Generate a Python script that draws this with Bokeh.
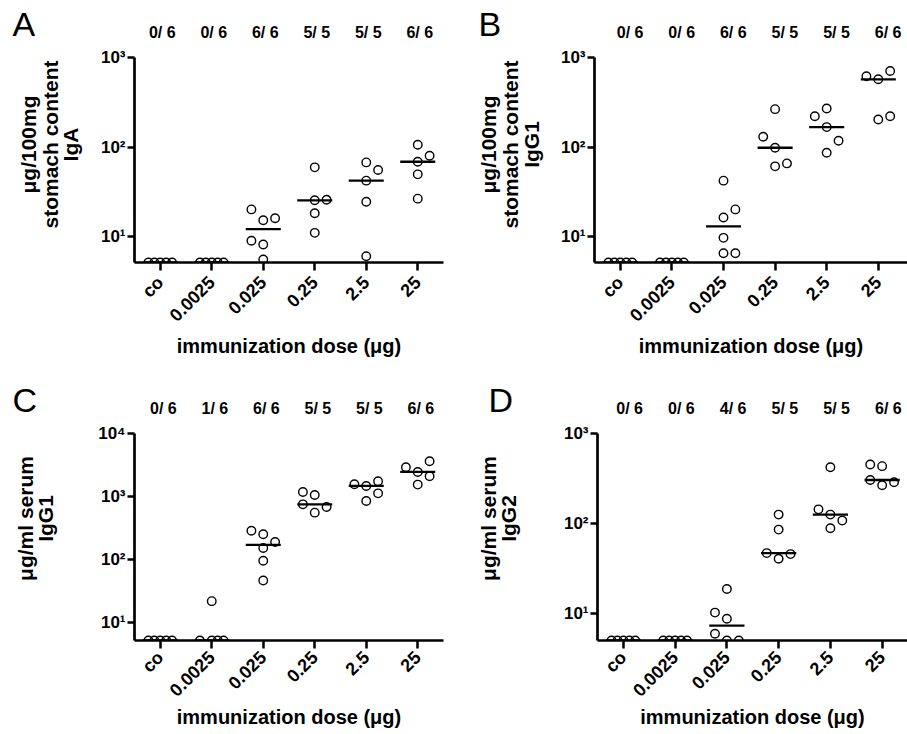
import numpy as np
from math import pi
from bokeh.plotting import figure
from bokeh.layouts import column, row
from bokeh.models import Range1d, FixedTicker, LinearAxis, Title
from bokeh.embed import file_html
from bokeh.resources import INLINE

# ---------------- data ----------------
doses = ["co", "0.0025", "0.025", "0.25", "2.5", "25"]
ND = None  # below detection limit (plotted on the x axis)

# A: IgA, stomach content (µg/100 mg)
A_counts = ["0/ 6", "0/ 6", "6/ 6", "5/ 5", "5/ 5", "6/ 6"]
A_values = [
    [ND, ND, ND, ND, ND],
    [ND, ND, ND, ND, ND],
    [20.1, 15.2, 16.0, 8.96, 8.15, 5.55],
    [59.3, 25.4, 25.8, 18.2, 11.0],
    [67.3, 55.3, 42.1, 24.5, 6.03],
    [106, 80, 68.5, 49.5, 26.5],
]
A_slots = [
    [-1, -0.5, 0, 0.5, 1],
    [-1, -0.5, 0, 0.5, 1],
    [-1, 0, 1, -1, 0, 0],
    [0, 0, 1, 0, 0],
    [0, 1, 0, 0, 0],
    [0, 1, 0, 0, 0],
]

# B: IgG1, stomach content (µg/100 mg)
B_counts = ["0/ 6", "0/ 6", "6/ 6", "5/ 5", "5/ 5", "6/ 6"]
B_values = [
    [ND, ND, ND, ND, ND],
    [ND, ND, ND, ND, ND],
    [42.1, 20.1, 16.3, 9.67, 6.52, 6.52],
    [265, 130, 98.2, 65.6, 60.8],
    [269, 221, 167, 117.5, 86.3],
    [708, 617, 571, 203, 221],
]
B_slots = [
    [-1, -0.5, 0, 0.5, 1],
    [-1, -0.5, 0, 0.5, 1],
    [0, 1, 0, 0, 0, 1],
    [0, -1, 0, 1, 0],
    [0, -1, 0, 1, 0],
    [1, -1, 0, 0, 1],
]

# C: IgG1, serum (µg/ml)
C_counts = ["0/ 6", "1/ 6", "6/ 6", "5/ 5", "5/ 5", "6/ 6"]
C_values = [
    [ND, ND, ND, ND, ND],
    [21.6, ND, ND, ND, ND],
    [285, 250, 188, 151, 95, 46.1],
    [1175, 1052, 748, 678, 552],
    [1560, 1466, 1738, 1119, 845],
    [3622, 2905, 2448, 2090, 1541],
]
C_slots = [
    [-1, -0.5, 0, 0.5, 1],
    [0, -1, 0, 0.5, 1],
    [-1, 0, 1, 0, 0, 0],
    [-1, 0, -1, 1, 0],
    [-1, 0, 1, 1, 0],
    [1, -1, 0, 1, 0],
]

# D: IgG2, serum (µg/ml)
D_counts = ["0/ 6", "0/ 6", "4/ 6", "5/ 5", "5/ 5", "6/ 6"]
D_values = [
    [ND, ND, ND, ND, ND],
    [ND, ND, ND, ND, ND],
    [18.8, 10.3, 8.8, 6.0, ND, ND],
    [126, 85.8, 47.1, 45.9, 40.8],
    [423, 144, 126, 108, 88.7],
    [453, 434, 305, 288, 267],
]
D_slots = [
    [-1, -0.5, 0, 0.5, 1],
    [-1, -0.5, 0, 0.5, 1],
    [0, -1, 0, -1, 0, 1],
    [0, 0, -1, 1, 0],
    [0, -1, 0, 1, 0],
    [-1, 0, -1, 1, 0],
]

# ---------------- style ----------------
FONT = "Liberation Sans"
JIT = 0.23      # horizontal jitter slot width (category units)
HALF = 0.34     # half width of median bar
SUP = {10: "10\u00b9", 100: "10\u00b2", 1000: "10\u00b3", 10000: "10\u2074"}
YT_SIZE = 21    # y title font size (px)

# approximate advance widths (em) of bold Liberation Sans, used to centre
# the rotated y-title lines at a chosen height
_W = {" ": .278, "/": .278, "0": .556, "1": .556, "2": .556, "A": .722,
      "G": .778, "I": .278, "a": .556, "c": .556, "e": .556, "g": .611,
      "h": .611, "l": .278, "m": .889, "n": .611, "o": .611, "r": .389,
      "s": .556, "t": .333, "u": .611, "\u03bc": .611}


def text_len(s, size):
    return sum(_W.get(ch, .6) for ch in s) * size


def make_panel(letter, ylines, counts, values, slots, lod, top, yticks,
               width, height, left, top_b, fw, fh, x_end,
               ycentre, yspacer, ystandoffs, let_dx,
               tick_standoff, xlab_standoff, count_shift):
    p = figure(width=width, height=height, frame_width=fw, frame_height=fh,
               y_axis_type="log",
               x_range=Range1d(-0.5, x_end), y_range=Range1d(lod, top),
               output_backend="svg", toolbar_location=None,
               min_border_left=left, min_border_top=top_b,
               min_border_right=width - left - fw,
               min_border_bottom=height - top_b - fh)
    p.outline_line_color = None
    p.grid.visible = False
    p.background_fill_color = "white"
    p.extra_x_ranges = {"counts": Range1d(-0.5 - count_shift, x_end - count_shift)}

    xs, ys = [], []
    mx, my = [], []
    for i, (vals, sl) in enumerate(zip(values, slots)):
        yv = [lod if v is None else v for v in vals]
        xs += [i + s * JIT for s in sl]
        ys += yv
        mx.append(i)
        my.append(float(np.median(yv)))
    p.scatter(xs, ys, marker="circle", size=8.5, fill_color=None,
              line_color="black", line_width=1.4)
    p.segment(x0=[m - HALF for m in mx], x1=[m + HALF for m in mx],
              y0=my, y1=my, line_color="black", line_width=2.3)

    # axes
    for ax in (p.xaxis[0], p.yaxis[0]):
        ax.axis_line_width = 2.7
        ax.axis_line_color = "black"
        ax.major_tick_line_width = 2.5
        ax.major_tick_in = 0
        ax.minor_tick_line_color = None
        ax.major_label_text_font = FONT
        ax.major_label_text_font_style = "bold"
        ax.major_label_text_color = "black"

    xa = p.xaxis[0]
    xa.ticker = FixedTicker(ticks=list(range(len(doses))))
    xa.major_label_overrides = {i: d for i, d in enumerate(doses)}
    xa.major_label_orientation = pi / 4
    xa.major_label_text_font_size = "18px"
    xa.major_tick_out = 8
    xa.major_label_standoff = tick_standoff
    xa.axis_label = "immunization dose (\u03bcg)"
    xa.axis_label_text_font = FONT
    xa.axis_label_text_font_style = "bold"
    xa.axis_label_text_font_size = "20px"
    xa.axis_label_text_color = "black"
    xa.axis_label_standoff = xlab_standoff

    ya = p.yaxis[0]
    ya.ticker = FixedTicker(ticks=yticks)
    ya.major_label_overrides = {t: SUP[t] for t in yticks}
    ya.major_label_text_font_size = "17px"
    ya.major_tick_out = 7
    ya.major_label_standoff = 2
    # invisible spacer between tick labels and the y title
    ya.axis_label = " "
    ya.axis_label_text_font_size = "1px"
    ya.axis_label_standoff = yspacer

    # count labels above each group
    ca = LinearAxis(x_range_name="counts",
                    ticker=FixedTicker(ticks=list(range(len(doses)))),
                    major_label_overrides={i: c for i, c in enumerate(counts)},
                    axis_line_color=None, major_tick_line_color=None,
                    minor_tick_line_color=None, major_tick_out=0,
                    major_label_standoff=17,
                    major_label_text_font=FONT,
                    major_label_text_font_style="bold",
                    major_label_text_font_size="16px",
                    major_label_text_color="black")
    p.add_layout(ca, "above")

    # panel letter, level with the count labels
    p.add_layout(Title(text=letter, align="left", offset=let_dx, standoff=-44,
                       vertical_align="bottom", text_font=FONT,
                       text_font_style="normal", text_font_size="34px",
                       text_color="black"), "above")

    # y title: one Title per line, from the axis outwards
    for line, so in zip(reversed(ylines), ystandoffs):
        off = ycentre - text_len(line, YT_SIZE) / 2
        p.add_layout(Title(text=line, align="right", offset=off,
                           standoff=so, text_font=FONT,
                           text_font_style="bold",
                           text_font_size=f"{YT_SIZE}px",
                           text_color="black"), "left")
    return p


pA = make_panel("A", ["\u03bcg/100mg", "stomach content", "IgA"], A_counts, A_values,
                A_slots, 5.13, 1000, [10, 100, 1000],
                453, 367, 134, 57, 309, 205, 5.5,
                87, 14, [-5, -5, -1], -122, 9, -1, 0.04)
pB = make_panel("B", ["\u03bcg/100mg", "stomach content", "IgG1"], B_counts, B_values,
                B_slots, 5.13, 1000, [10, 100, 1000],
                454, 367, 141, 57, 313, 205, 5.566,
                87, 13, [-5, -3, -3], -116, 9, -1, 0.19)
pC = make_panel("C", ["\u03bcg/ml serum", "IgG1"], C_counts, C_values,
                C_slots, 5.12, 10000, [10, 100, 1000, 10000],
                453, 367, 134, 66, 309, 207, 5.5,
                85, 37, [-5, -5], -122, 6, -5, 0.06)
pD = make_panel("D", ["\u03bcg/ml serum", "IgG2"], D_counts, D_values,
                D_slots, 5.05, 1000, [10, 100, 1000],
                454, 367, 144, 66, 310, 207, 5.49,
                85, 39, [-5, -5], -109, 6, -5, 0.12)

layout = column(row(pA, pB), row(pC, pD))
open("out.html", "w").write(file_html(layout, INLINE))
